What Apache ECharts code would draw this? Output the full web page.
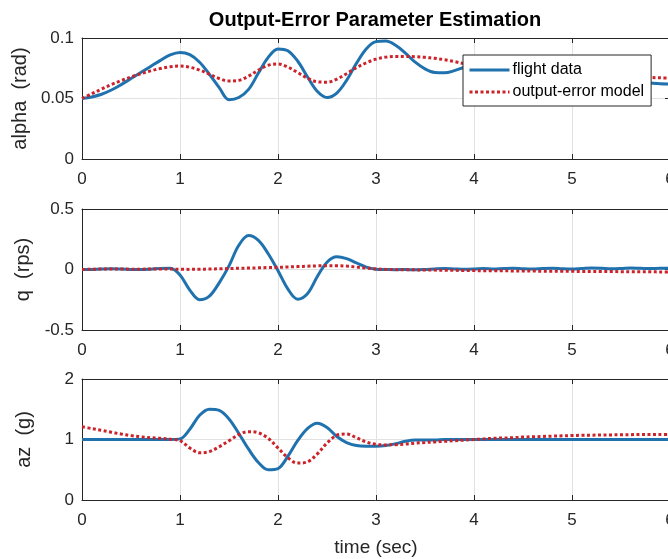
<!DOCTYPE html>
<html>
<head>
<meta charset="utf-8">
<script src="https://cdn.jsdelivr.net/npm/echarts@6/dist/echarts.min.js"></script>
<style>
  html, body { margin: 0; padding: 0; background: #fff; }
  #chart { width: 668px; height: 559px; }
</style>
</head>
<body>
<div id="chart"></div>
<script>
// Sample times (s)
const time = [
  0.0, 0.1, 0.2, 0.3, 0.4, 0.5, 0.6, 0.7, 0.8, 0.9,
  1.0, 1.1, 1.2, 1.3, 1.4, 1.5, 1.6, 1.7, 1.8, 1.9,
  2.0, 2.1, 2.2, 2.3, 2.4, 2.5, 2.6, 2.7, 2.8, 2.9,
  3.0, 3.1, 3.2, 3.3, 3.4, 3.5, 3.6, 3.7, 3.8, 3.9,
  4.0, 4.1, 4.2, 4.3, 4.4, 4.5, 4.6, 4.7, 4.8, 4.9,
  5.0, 5.1, 5.2, 5.3, 5.4, 5.5, 5.6, 5.7, 5.8, 5.9,
  6.0
];

// Angle of attack (rad)
const alphaFlight = [
  0.0500, 0.0513, 0.0535, 0.0570, 0.0615, 0.0665, 0.0715, 0.0765, 0.0815, 0.0860,
  0.0880, 0.0862, 0.0800, 0.0700, 0.0590, 0.0490, 0.0508, 0.0575, 0.0710, 0.0840,
  0.0910, 0.0895, 0.0810, 0.0680, 0.0560, 0.0508, 0.0545, 0.0650, 0.0790, 0.0910,
  0.0970, 0.0975, 0.0940, 0.0875, 0.0800, 0.0745, 0.0715, 0.0712, 0.0730, 0.0758,
  0.0778, 0.0785, 0.0775, 0.0750, 0.0715, 0.0685, 0.0670, 0.0670, 0.0680, 0.0690,
  0.0695, 0.0690, 0.0675, 0.0660, 0.0650, 0.0645, 0.0640, 0.0635, 0.0628, 0.0622,
  0.0620
];
const alphaModel = [
  0.0500, 0.0540, 0.0578, 0.0615, 0.0648, 0.0678, 0.0705, 0.0728, 0.0748, 0.0762,
  0.0768, 0.0758, 0.0735, 0.0700, 0.0665, 0.0645, 0.0650, 0.0685, 0.0735, 0.0775,
  0.0785, 0.0760, 0.0715, 0.0668, 0.0638, 0.0635, 0.0660, 0.0705, 0.0755, 0.0795,
  0.0825, 0.0842, 0.0848, 0.0848, 0.0845, 0.0840, 0.0832, 0.0820, 0.0805, 0.0788,
  0.0772, 0.0758, 0.0745, 0.0735, 0.0728, 0.0722, 0.0718, 0.0714, 0.0710, 0.0706,
  0.0702, 0.0698, 0.0694, 0.0690, 0.0686, 0.0683, 0.0680, 0.0677, 0.0674, 0.0671,
  0.0668
];

// Pitch rate (rps)
const qFlight = [
  0.000, 0.001, 0.004, 0.006, 0.004, 0.001, 0.000, 0.003, 0.008, 0.010,
  -0.045, -0.170, -0.250, -0.220, -0.110, 0.030, 0.200, 0.280, 0.240, 0.130,
  -0.010, -0.160, -0.245, -0.200, -0.060, 0.060, 0.105, 0.090, 0.055, 0.020,
  0.003, 0.000, -0.002, 0.000, -0.003, 0.000, 0.005, 0.008, 0.005, 0.002,
  0.004, 0.008, 0.005, 0.008, 0.010, 0.006, 0.004, 0.008, 0.010, 0.006,
  0.004, 0.008, 0.012, 0.010, 0.006, 0.008, 0.012, 0.010, 0.008, 0.010,
  0.010
];
const qModel = [
  0.000, 0.002, 0.004, 0.005, 0.004, 0.003, 0.003, 0.004, 0.005, 0.004,
  0.002, 0.001, 0.002, 0.004, 0.006, 0.008, 0.010, 0.012, 0.014, 0.016,
  0.018, 0.021, 0.024, 0.027, 0.030, 0.032, 0.032, 0.028, 0.020, 0.012,
  0.005, 0.001, -0.001, -0.002, -0.003, -0.004, -0.005, -0.006, -0.007, -0.008,
  -0.009, -0.010, -0.011, -0.011, -0.012, -0.013, -0.013, -0.014, -0.014, -0.015,
  -0.015, -0.016, -0.016, -0.017, -0.017, -0.018, -0.018, -0.019, -0.019, -0.020,
  -0.020
];

// Normal acceleration (g)
const azFlight = [
  1.00, 1.00, 1.00, 1.00, 1.00, 1.00, 1.00, 1.00, 1.00, 1.00,
  1.01, 1.17, 1.40, 1.50, 1.48, 1.34, 1.10, 0.84, 0.62, 0.50,
  0.52, 0.72, 0.98, 1.18, 1.27, 1.20, 1.05, 0.95, 0.90, 0.89,
  0.89, 0.90, 0.93, 0.97, 0.99, 0.99, 0.99, 1.00, 1.00, 1.00,
  1.00, 1.00, 1.00, 1.00, 1.00, 1.00, 1.00, 1.00, 1.00, 1.00,
  1.00, 1.00, 1.00, 1.00, 1.00, 1.00, 1.00, 1.00, 1.00, 1.00,
  1.00
];
const azModel = [
  1.21, 1.18, 1.15, 1.12, 1.09, 1.065, 1.045, 1.03, 1.02, 1.005,
  0.98, 0.86, 0.78, 0.80, 0.88, 0.98, 1.08, 1.13, 1.11, 1.02,
  0.86, 0.70, 0.61, 0.63, 0.76, 0.94, 1.07, 1.09, 1.03, 0.96,
  0.92, 0.91, 0.915, 0.925, 0.94, 0.95, 0.96, 0.97, 0.98, 0.99,
  1.00, 1.01, 1.02, 1.025, 1.03, 1.04, 1.045, 1.05, 1.055, 1.06,
  1.065, 1.07, 1.072, 1.074, 1.076, 1.078, 1.08, 1.082, 1.083, 1.084,
  1.085
];

const xTicks = { min: 0, max: 6, interval: 1 };
const panels = [
  { name: 'alpha  (rad)', min: 0, max: 0.1, interval: 0.05, flight: alphaFlight, model: alphaModel },
  { name: 'q  (rps)', min: -0.5, max: 0.5, interval: 0.5, flight: qFlight, model: qModel },
  { name: 'az  (g)', min: 0, max: 2, interval: 1, flight: azFlight, model: azModel }
];
const seriesNames = ['flight data', 'output-error model'];

const FONT = '"Liberation Sans", Arial, Helvetica, sans-serif';
const AXIS_COLOR = '#262626';
const GRID_COLOR = '#e2e2e2';
const BLUE = '#1f72ae';
const RED = '#cc2229';

const gridTops = [38, 209, 379];
const gridHeight = 121;

const grids = [], xAxes = [], yAxes = [], series = [];

const axisLine = { show: true, onZero: false, lineStyle: { color: AXIS_COLOR, width: 1 } };
const axisTick = { show: true, inside: true, length: 5, lineStyle: { color: AXIS_COLOR, width: 1 } };
const splitLine = { show: true, lineStyle: { color: GRID_COLOR, width: 1 } };

panels.forEach((p, g) => {
  grids.push({ left: 82, top: gridTops[g], width: 588, height: gridHeight, containLabel: false, outerBoundsMode: 'none' });

  // bottom x axis with labels
  xAxes.push({
    type: 'value', gridIndex: g, position: 'bottom',
    min: xTicks.min, max: xTicks.max, interval: xTicks.interval,
    axisLine, axisTick, splitLine,
    axisLabel: { color: AXIS_COLOR, fontSize: 17, fontFamily: FONT, margin: 12, showMaxLabel: true },
    name: g === 2 ? 'time (sec)' : '',
    nameLocation: 'middle', nameGap: 38,
    nameTextStyle: { color: AXIS_COLOR, fontSize: 19, fontFamily: FONT }
  });
  // top x axis: box edge with mirrored ticks
  xAxes.push({
    type: 'value', gridIndex: g, position: 'top',
    min: xTicks.min, max: xTicks.max, interval: xTicks.interval,
    axisLine, axisTick, splitLine: { show: false }, axisLabel: { show: false }
  });
  // left y axis with labels and name
  yAxes.push({
    type: 'value', gridIndex: g, position: 'left',
    min: p.min, max: p.max, interval: p.interval,
    axisLine, axisTick, splitLine,
    axisLabel: { color: AXIS_COLOR, fontSize: 17, fontFamily: FONT, margin: 8 },
    name: p.name, nameLocation: 'middle', nameRotate: 90, nameGap: 48,
    nameTextStyle: { color: AXIS_COLOR, fontSize: 20, fontFamily: FONT }
  });
  // right y axis: box edge with mirrored ticks
  yAxes.push({
    type: 'value', gridIndex: g, position: 'right',
    min: p.min, max: p.max, interval: p.interval,
    axisLine, axisTick, splitLine: { show: false }, axisLabel: { show: false }
  });

  series.push({
    name: seriesNames[0], type: 'line', xAxisIndex: 2 * g, yAxisIndex: 2 * g,
    data: time.map((t, i) => [t, p.flight[i]]),
    showSymbol: false, symbol: 'none', smooth: 0.35, animation: false,
    lineStyle: { color: BLUE, width: 3 }, itemStyle: { color: BLUE }, z: 2
  });
  series.push({
    name: seriesNames[1], type: 'line', xAxisIndex: 2 * g, yAxisIndex: 2 * g,
    data: time.map((t, i) => [t, p.model[i]]),
    showSymbol: false, symbol: 'none', smooth: 0.35, animation: false,
    lineStyle: { color: RED, width: 3, type: [3, 2.5] }, itemStyle: { color: RED }, z: 3
  });
});

const chart = echarts.init(document.getElementById('chart'), null, { renderer: 'canvas' });
chart.setOption({
  backgroundColor: '#ffffff',
  animation: false,
  title: {
    text: 'Output-Error Parameter Estimation',
    left: 370, top: 5, textAlign: 'center',
    textStyle: { fontFamily: FONT, fontSize: 20, fontWeight: 'bold', color: '#000' }
  },
  legend: {
    data: seriesNames,
    orient: 'vertical', left: 463, top: 55,
    padding: [7, 7, 6, 5], itemGap: 6, itemWidth: 40, itemHeight: 14,
    itemStyle: { opacity: 0 },
    lineStyle: { width: 3 },
    backgroundColor: '#ffffff', borderColor: AXIS_COLOR, borderWidth: 1, borderRadius: 0,
    textStyle: { fontFamily: FONT, fontSize: 16, color: '#000', padding: [0, 0, 0, -2] }
  },
  grid: grids,
  xAxis: xAxes,
  yAxis: yAxes,
  series
});
</script>
</body>
</html>
